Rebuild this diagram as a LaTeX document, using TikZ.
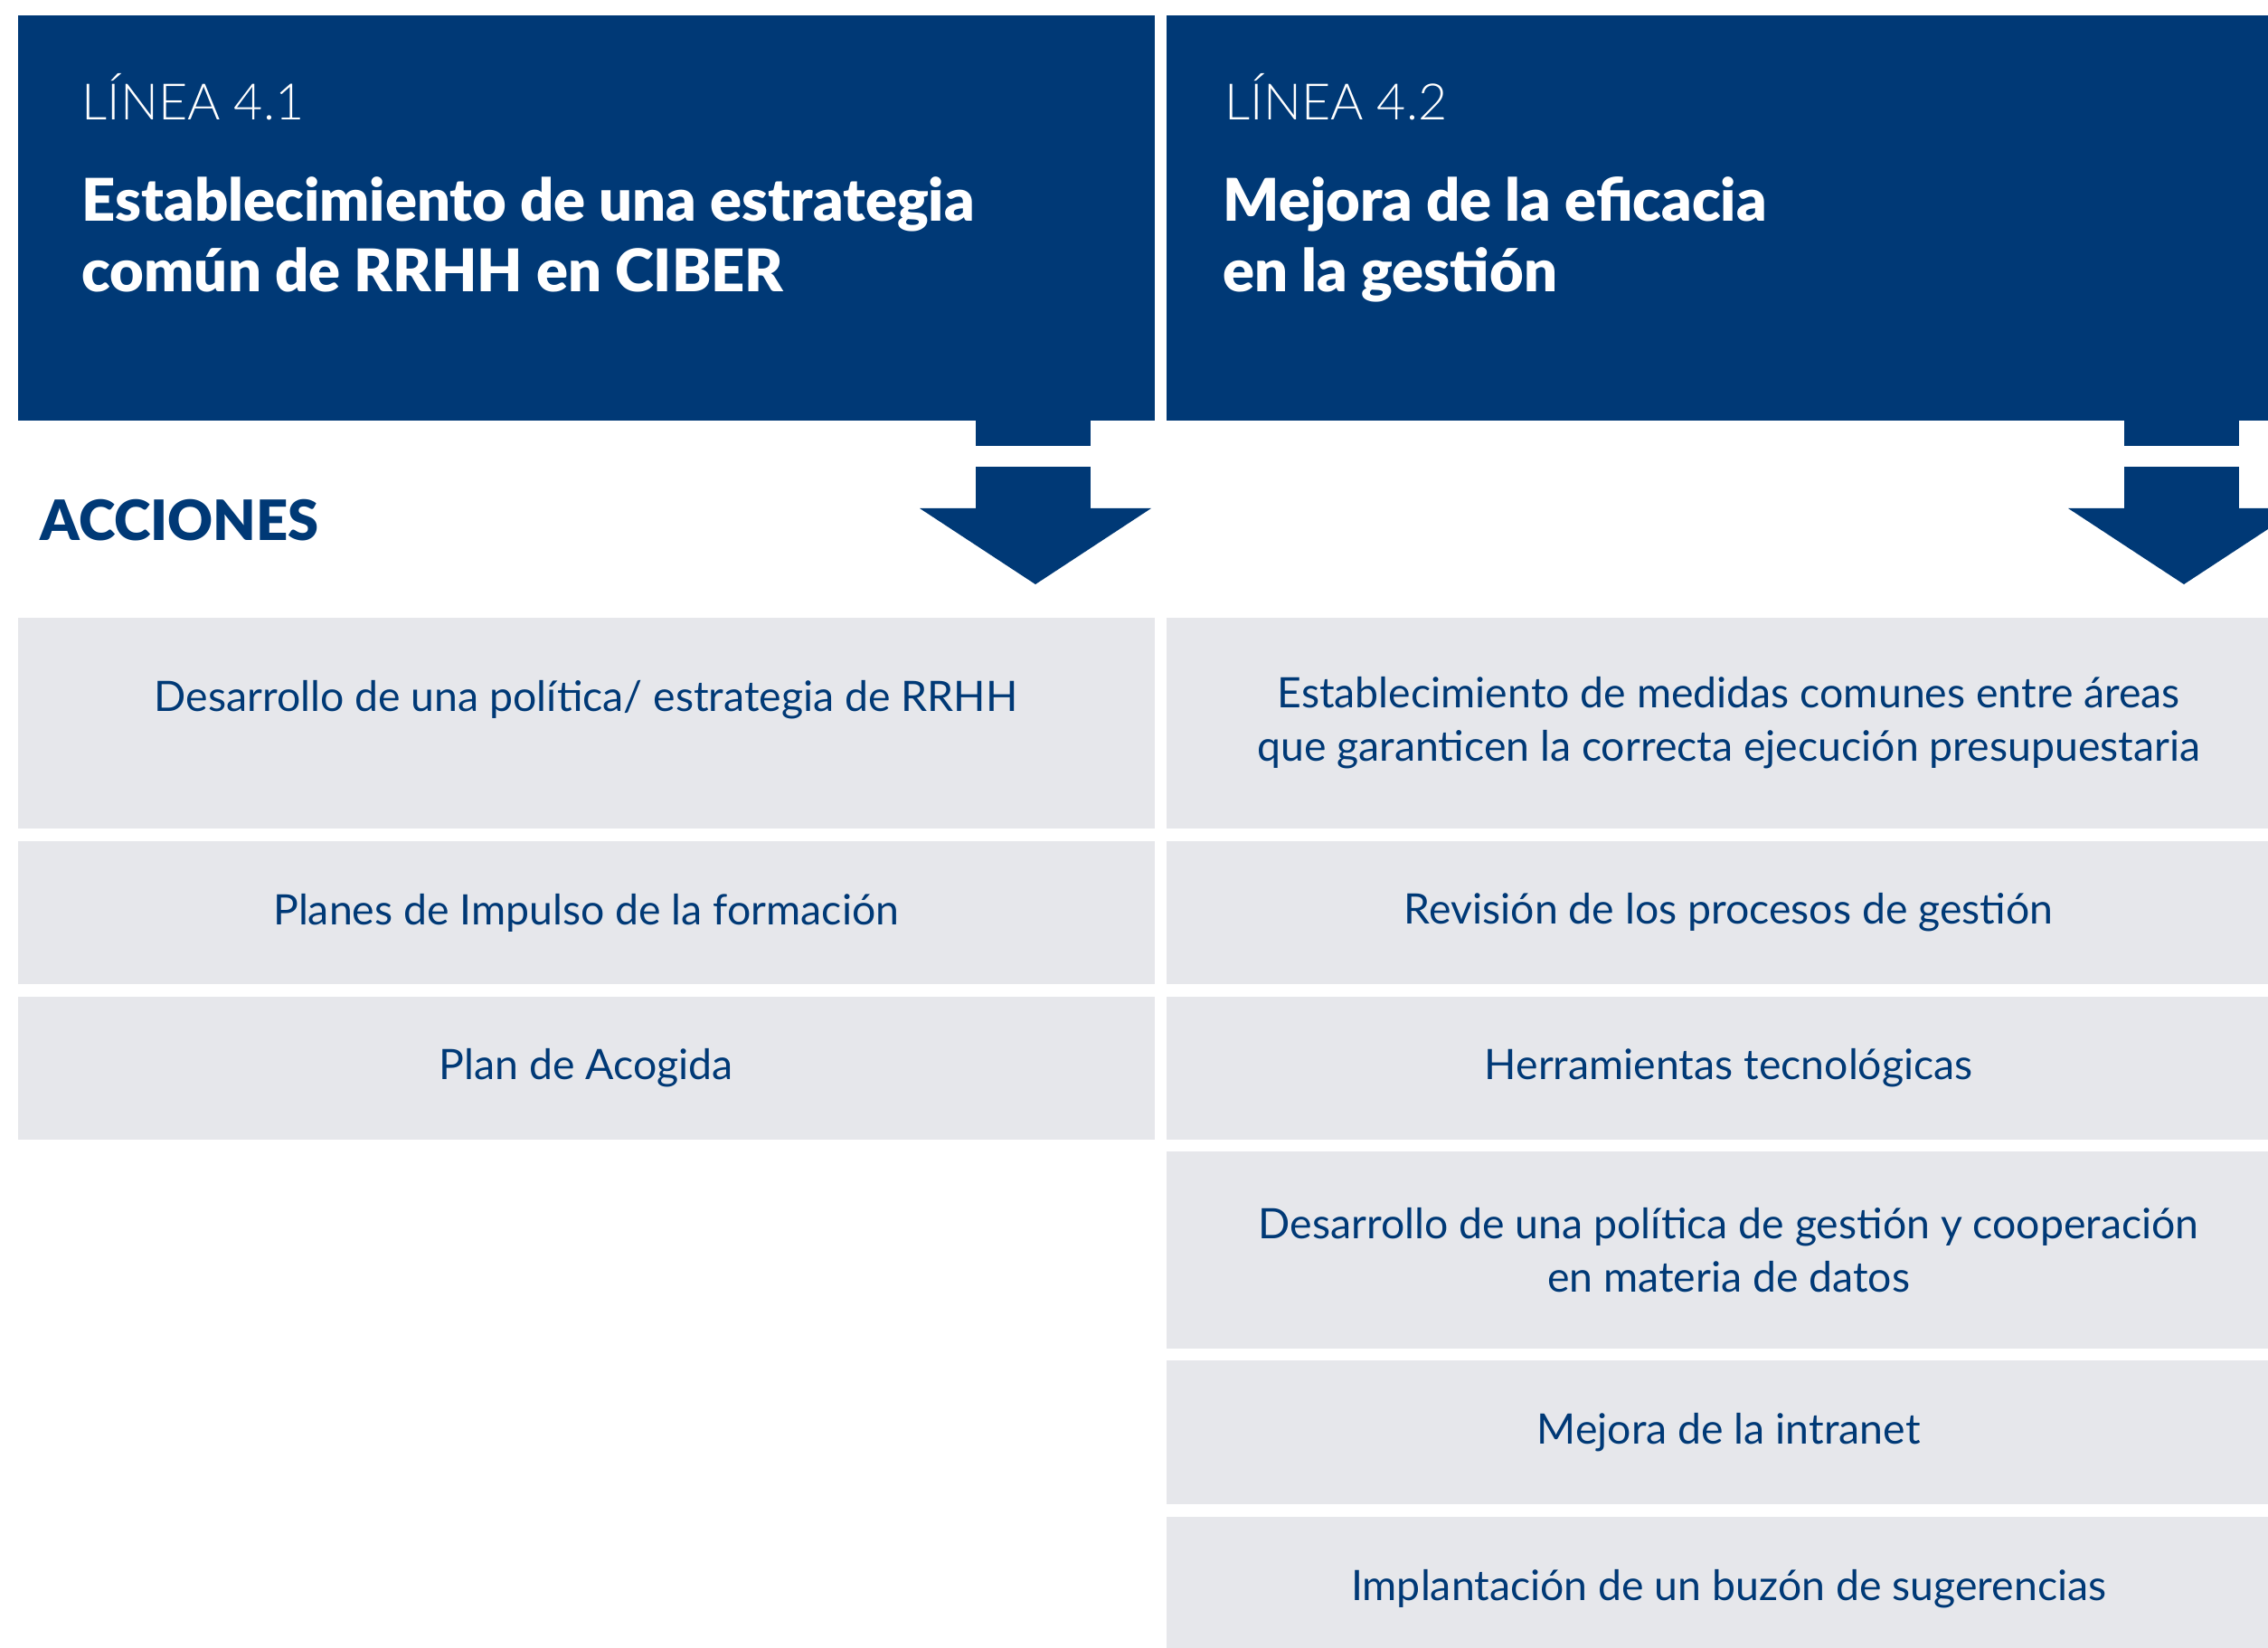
\documentclass[tikz,border=0pt]{standalone}
\usepackage{fontspec}
\setmainfont{Lato}
\newfontfamily\lightfont{Lato Light}
\newfontfamily\heavyfont{Lato Black}
\usepackage{xcolor}
\definecolor{navy}{RGB}{0,57,118}
\definecolor{boxgrey}{RGB}{230,231,235}
\usetikzlibrary{positioning}
\usetikzlibrary{calc}
\tikzset{
	headbox/.style={fill=navy, inner sep=0pt, minimum width=12.57cm, minimum height=4.48cm, anchor=north west},
	actbox/.style={fill=boxgrey, inner sep=0pt, text=navy, align=center, minimum width=12.57cm,
		font=\fontsize{13.2}{16.8}\selectfont},
	linea/.style={text=white, inner sep=0pt, anchor=base west, font=\lightfont\fontsize{15.8}{16}\selectfont},
	lineatitle/.style={text=white, inner sep=0pt, anchor=base west, align=left,
		font=\heavyfont\fontsize{18.5}{22.2}\selectfont},
	pics/downarrow/.style={code={%
			\fill[navy] (-0.66,0) rectangle (0.61,-0.29);
			\fill[navy] (-0.66,-0.52) rectangle (0.61,-0.98);
			\fill[navy] (-1.28,-0.98) -- (1.28,-0.98) -- (0,-1.82) -- cycle;}}
}

\begin{document}
\begin{tikzpicture}
\useasboundingbox (0,0) rectangle (25.08,-18.22);
\clip (0,0) rectangle (25.08,-18.22);

% header left
\node[headbox] (head1) at (0.19,-0.16) {};
\node[linea] (lin1) at (0.90,-1.33) {LÍNEA 4.1};
\node[lineatitle] (tit1) at (0.90,-3.23) {Establecimiento de una estrategia\\común de RRHH en CIBER};
\path (11.45,-4.64) pic{downarrow};

% header right
\node[headbox] (head2) at (12.89,-0.16) {};
\node[linea] (lin2) at (13.54,-1.33) {LÍNEA 4.2};
\node[lineatitle] (tit2) at (13.52,-3.23) {Mejora de la eficacia\\en la gestión};
\path (24.15,-4.64) pic{downarrow};

% Acciones
\node[text=navy, inner sep=0pt, anchor=base west, font=\heavyfont\fontsize{17.5}{20}\selectfont] (acc) at (0.44,-5.98) {ACCIONES};

% left column
\node[actbox, anchor=north west, minimum height=2.33cm] (a1) at (0.19,-6.82)
	{Desarrollo de una política/ estrategia de RRHH\\\mbox{}};
\node[actbox, below=0.13cm of a1.south west, anchor=north west, minimum height=1.58cm] (a2)
	{Planes de Impulso de la formación};
\node[actbox, below=0.12cm of a2.south west, anchor=north west, minimum height=1.58cm] (a3)
	{Plan de Acogida};

% right column
\node[actbox, anchor=north west, minimum width=12.44cm, minimum height=2.33cm] (b1) at (12.89,-6.82)
	{Establecimiento de medidas comunes entre áreas\\que garanticen la correcta ejecución presupuestaria};
\node[actbox, below=0.13cm of b1.south west, anchor=north west, minimum width=12.44cm, minimum height=1.58cm] (b2)
	{Revisión de los procesos de gestión};
\node[actbox, below=0.12cm of b2.south west, anchor=north west, minimum width=12.44cm, minimum height=1.58cm] (b3)
	{Herramientas tecnológicas};
\node[actbox, below=0.12cm of b3.south west, anchor=north west, minimum width=12.44cm, minimum height=2.18cm] (b4)
	{Desarrollo de una política de gestión y cooperación\\en materia de datos};
\node[actbox, below=0.12cm of b4.south west, anchor=north west, minimum width=12.44cm, minimum height=1.59cm] (b5)
	{Mejora de la intranet};
\node[actbox, below=0.12cm of b5.south west, anchor=north west, minimum width=12.44cm, minimum height=1.59cm] (b6)
	{Implantación de un buzón de sugerencias};
\end{tikzpicture}
\end{document}
